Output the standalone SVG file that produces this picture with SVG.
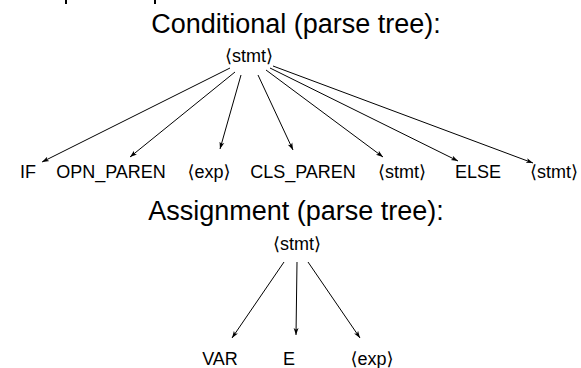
<svg xmlns="http://www.w3.org/2000/svg" width="581" height="368" viewBox="0 0 581 368">
  <defs>
    <marker id="arr" viewBox="0 0 10 10" refX="10" refY="5" markerWidth="7" markerHeight="7" markerUnits="userSpaceOnUse" orient="auto">
      <path d="M0,1.5 L10,5 L0,8.5 L2.5,5 Z" fill="#000"/>
    </marker>
  </defs>
  <style>
    text { font-family: "Liberation Sans", "DejaVu Sans", Arial, sans-serif; fill: #000; text-anchor: middle; }
    .title { font-size: 27px; }
    .lbl { font-size: 18px; }
    .edge { stroke: #000; stroke-width: 1; fill: none; marker-end: url(#arr); }
  </style>
  <rect width="581" height="368" fill="#fff"/>

  <!-- descenders of the line above, clipped by the frame -->
  <g id="clipped-line" stroke="#000" stroke-width="2">
    <line x1="66" y1="0" x2="66" y2="4"/>
    <line x1="155" y1="0" x2="155" y2="4"/>
  </g>

  <!-- conditional statement tree -->
  <text class="title" x="296" y="33">Conditional (parse tree):</text>
  <g id="c-root"><text class="lbl" x="249" y="62">⟨stmt⟩</text></g>
  <g id="c-if"><text class="lbl" x="28" y="178">IF</text></g>
  <g id="c-opn"><text class="lbl" x="111" y="178">OPN_PAREN</text></g>
  <g id="c-exp"><text class="lbl" x="209" y="178">⟨exp⟩</text></g>
  <g id="c-cls"><text class="lbl" x="303" y="178">CLS_PAREN</text></g>
  <g id="c-stmt1"><text class="lbl" x="402" y="178">⟨stmt⟩</text></g>
  <g id="c-else"><text class="lbl" x="478" y="178">ELSE</text></g>
  <g id="c-stmt2"><text class="lbl" x="554" y="178">⟨stmt⟩</text></g>

  <!-- assignment statement tree -->
  <text class="title" x="296" y="220">Assignment (parse tree):</text>
  <g id="a-root"><text class="lbl" x="297" y="250">⟨stmt⟩</text></g>
  <g id="a-var"><text class="lbl" x="220" y="365">VAR</text></g>
  <g id="a-e"><text class="lbl" x="289" y="365">E</text></g>
  <g id="a-exp"><text class="lbl" x="372" y="365">⟨exp⟩</text></g>

  <g id="connectors">
    <line class="edge" x1="230" y1="68" x2="42" y2="162"/>
    <line class="edge" x1="235" y1="72" x2="130" y2="157"/>
    <line class="edge" x1="241" y1="75" x2="220" y2="149"/>
    <line class="edge" x1="258" y1="75" x2="293" y2="150"/>
    <line class="edge" x1="266" y1="70" x2="383" y2="157"/>
    <line class="edge" x1="270" y1="68" x2="458" y2="161"/>
    <line class="edge" x1="273" y1="66" x2="533" y2="163"/>

    <line class="edge" x1="284" y1="262" x2="232" y2="338"/>
    <line class="edge" x1="297" y1="262" x2="296" y2="335"/>
    <line class="edge" x1="308" y1="262" x2="360" y2="338"/>
  </g>
</svg>
